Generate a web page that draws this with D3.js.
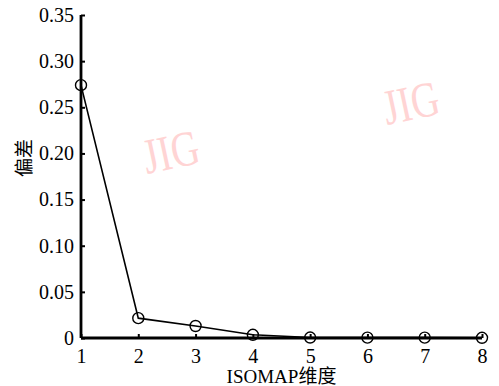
<!DOCTYPE html>
<html>
<head>
<meta charset="utf-8">
<script src="https://cdn.jsdelivr.net/npm/d3@7"></script>
<style>
  body { margin: 0; background: #fff; }
</style>
</head>
<body>
<svg id="chart" width="499" height="386"></svg>
<script>
// data
const dims = [1, 2, 3, 4, 5, 6, 7, 8];
const bias = [0.274, 0.0215, 0.013, 0.0035, 0.0005, 0.0004, 0.0004, 0.0002];
const yTicks = [0, 0.05, 0.10, 0.15, 0.20, 0.25, 0.30, 0.35];

const serif = '"Liberation Serif", "Times New Roman", "DejaVu Serif", serif';
const svg = d3.select('#chart');
const margin = { left: 81, right: 17, top: 15, bottom: 48 };
const width = 499, height = 386;

const x = d3.scaleLinear().domain([1, 8]).range([margin.left, width - margin.right]);
const y = d3.scaleLinear().domain([0, 0.35]).range([height - margin.bottom, margin.top]);

// watermarks
const wm = [[172, 157], [412, 108]];
svg.selectAll('text.wm')
  .data(wm)
  .enter()
  .append('text')
  .attr('class', 'wm')
  .attr('transform', (d) => `translate(${d[0]},${d[1]}) rotate(-12) scale(0.78,1)`)
  .attr('text-anchor', 'middle')
  .attr('dominant-baseline', 'middle')
  .attr('fill', '#ffd4d4')
  .style('font-family', serif)
  .style('font-size', '50px')
  .text('JIG');

const yAxis = svg.append('g')
  .attr('transform', `translate(${margin.left},0)`)
  .call(d3.axisLeft(y).tickValues(yTicks).tickSize(-4).tickPadding(7)
    .tickFormat((d) => (d === 0 ? '0' : d3.format('.2f')(d))));

const xAxis = svg.append('g')
  .attr('transform', `translate(0,${height - margin.bottom})`)
  .call(d3.axisBottom(x).tickValues(dims).tickSize(-4).tickPadding(8).tickFormat(d3.format('d')));

[yAxis, xAxis].forEach((g) => {
  g.attr('font-family', serif).attr('font-size', 20);
  g.select('.domain').attr('stroke', '#000').attr('stroke-width', 2.8);
  g.selectAll('.tick line').attr('stroke', '#000').attr('stroke-width', 2);
  g.selectAll('.tick text').attr('fill', '#000');
});
yAxis.select('.domain').attr('d', `M0,${y(0)}V${y(0.35)}`);
xAxis.select('.domain').attr('d', `M${x(1)},0H${x(8)}`);
xAxis.selectAll('.tick text').attr('dy', '0.85em');

const line = d3.line().x((d, i) => x(dims[i])).y((d) => y(d));

svg.append('path')
  .datum(bias)
  .attr('fill', 'none')
  .attr('stroke', '#000')
  .attr('stroke-width', 1.6)
  .attr('d', line);

svg.selectAll('circle.pt')
  .data(bias)
  .enter()
  .append('circle')
  .attr('class', 'pt')
  .attr('cx', (d, i) => x(dims[i]))
  .attr('cy', (d) => y(d))
  .attr('r', 5.5)
  .attr('fill', 'none')
  .attr('stroke', '#000')
  .attr('stroke-width', 1.4);

svg.append('text')
  .attr('x', (x(1) + x(8)) / 2)
  .attr('y', 383)
  .attr('text-anchor', 'middle')
  .style('font-size', '19px')
  .style('font-family', '"Liberation Serif", "Noto Sans CJK SC", serif')
  .text('ISOMAP维度');

svg.append('text')
  .attr('transform', 'translate(26,158) rotate(-90)')
  .attr('text-anchor', 'middle')
  .attr('dominant-baseline', 'middle')
  .style('font-size', '19px')
  .style('font-family', '"Noto Sans CJK SC", sans-serif')
  .text('偏差');
</script>
</body>
</html>
